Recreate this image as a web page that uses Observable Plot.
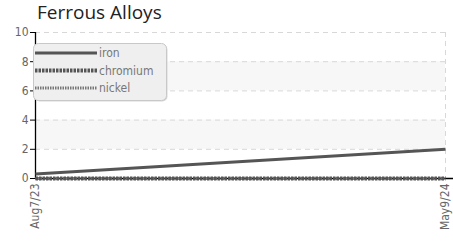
<!DOCTYPE html>
<html><head><meta charset="utf-8">
<script src="https://cdn.jsdelivr.net/npm/d3@7"></script>
<script src="https://cdn.jsdelivr.net/npm/@observablehq/plot@0.6"></script>
<style>
body{margin:0;background:#fff;width:453px;height:241px;overflow:hidden;position:relative}
#title{position:absolute;left:37px;top:-1px;font:19px "Open Sans",sans-serif;color:#222;}
#chart{position:absolute;left:0;top:26px}
#legend{position:absolute;left:32px;top:42px}
.cond{font-family:"Liberation Sans Narrow","DejaVu Sans Condensed",sans-serif}
</style></head><body>
<div id="title">Ferrous Alloys</div>
<div id="chart"></div>
<svg id="legend" width="140" height="64"></svg>
<script>
const dates = ["2023-08-07","2024-05-09"];
const tickLabels = ["Aug7/23","May9/24"];
const seriesNames = ["iron","chromium","nickel"];
const iron = [0.3, 2.0];
const chromium = [0, 0];
const nickel = [0, 0];
const yTicks = [0,2,4,6,8,10];
const bands = [[2,4],[6,8]];

const parse = d3.utcParse("%Y-%m-%d");
const xd = dates.map(parse);
const styles = {
  iron:{stroke:"#555", strokeWidth:3, dash:null},
  chromium:{stroke:"#555", strokeWidth:4, dash:"2.5,1"},
  nickel:{stroke:"#777", strokeWidth:3, dash:"1.5,1"}
};
const vals = {iron, chromium, nickel};
const rows = seriesNames.flatMap(s => xd.map((d,i)=>({s, date:d, v:vals[s][i]})));
const bandRows = bands.map(([a,b])=>({x1:xd[0], x2:xd[1], y1:a, y2:b}));
const fmt = new Map(xd.map((d,i)=>[+d, tickLabels[i]]));

const lineMarks = [...seriesNames].reverse().map(s => Plot.line(rows.filter(r=>r.s===s), {
  x:"date", y:"v", stroke:styles[s].stroke, strokeWidth:styles[s].strokeWidth,
  strokeDasharray:styles[s].dash, strokeLinecap:"butt"
}));

const chart = Plot.plot({
  width:453, height:215,
  marginTop:6, marginBottom:63, marginLeft:35, marginRight:8,
  style:{fontFamily:'"Liberation Sans Narrow","DejaVu Sans Condensed",sans-serif', fontSize:"12px", color:"#666", background:"transparent"},
  x:{type:"utc", domain:xd, ticks:xd, tickFormat:d=>fmt.get(+d), tickRotate:-90, tickSize:0, tickPadding:5, label:null},
  y:{domain:[0,10], ticks:yTicks, tickSize:5, tickPadding:2, label:null},
  marks:[
    Plot.rect(bandRows, {x1:"x1", x2:"x2", y1:"y1", y2:"y2", fill:"#f7f7f7"}),
    Plot.ruleY(yTicks.slice(1), {stroke:"#d8d8d8", strokeDasharray:"5,4"}),
    Plot.ruleX(xd, {stroke:"#d8d8d8", strokeDasharray:"5,4"}),
    Plot.ruleX([xd[0]], {stroke:"#000", strokeWidth:1.3}),
    Plot.ruleY([0], {stroke:"#000", strokeWidth:1.3, insetRight:-8}),
    ...lineMarks
  ]
});
chart.querySelectorAll('[aria-label="y-axis tick"] path, [aria-label="y-axis tick"] line').forEach(e=>e.setAttribute("stroke","#000"));
document.getElementById("chart").append(chart);

// legend
const lg = d3.select("#legend");
lg.append("rect").attr("x",2.5).attr("y",2.5).attr("width",133).attr("height",57).attr("rx",5)
  .attr("fill","#d8d8d8").attr("stroke","none");
lg.append("rect").attr("x",1.5).attr("y",1.5).attr("width",133).attr("height",57).attr("rx",5)
  .attr("fill","#efefef").attr("stroke","#c8c8c8");
seriesNames.forEach((s,i)=>{
  const y = 11 + i*17.5;
  lg.append("line").attr("x1",3).attr("x2",65).attr("y1",y).attr("y2",y)
    .attr("stroke",styles[s].stroke).attr("stroke-width",styles[s].strokeWidth)
    .attr("stroke-dasharray",styles[s].dash);
  lg.append("text").attr("x",67).attr("y",y+4).attr("class","cond")
    .attr("font-size",12).attr("fill","#777").text(s);
});
</script>
</body></html>
